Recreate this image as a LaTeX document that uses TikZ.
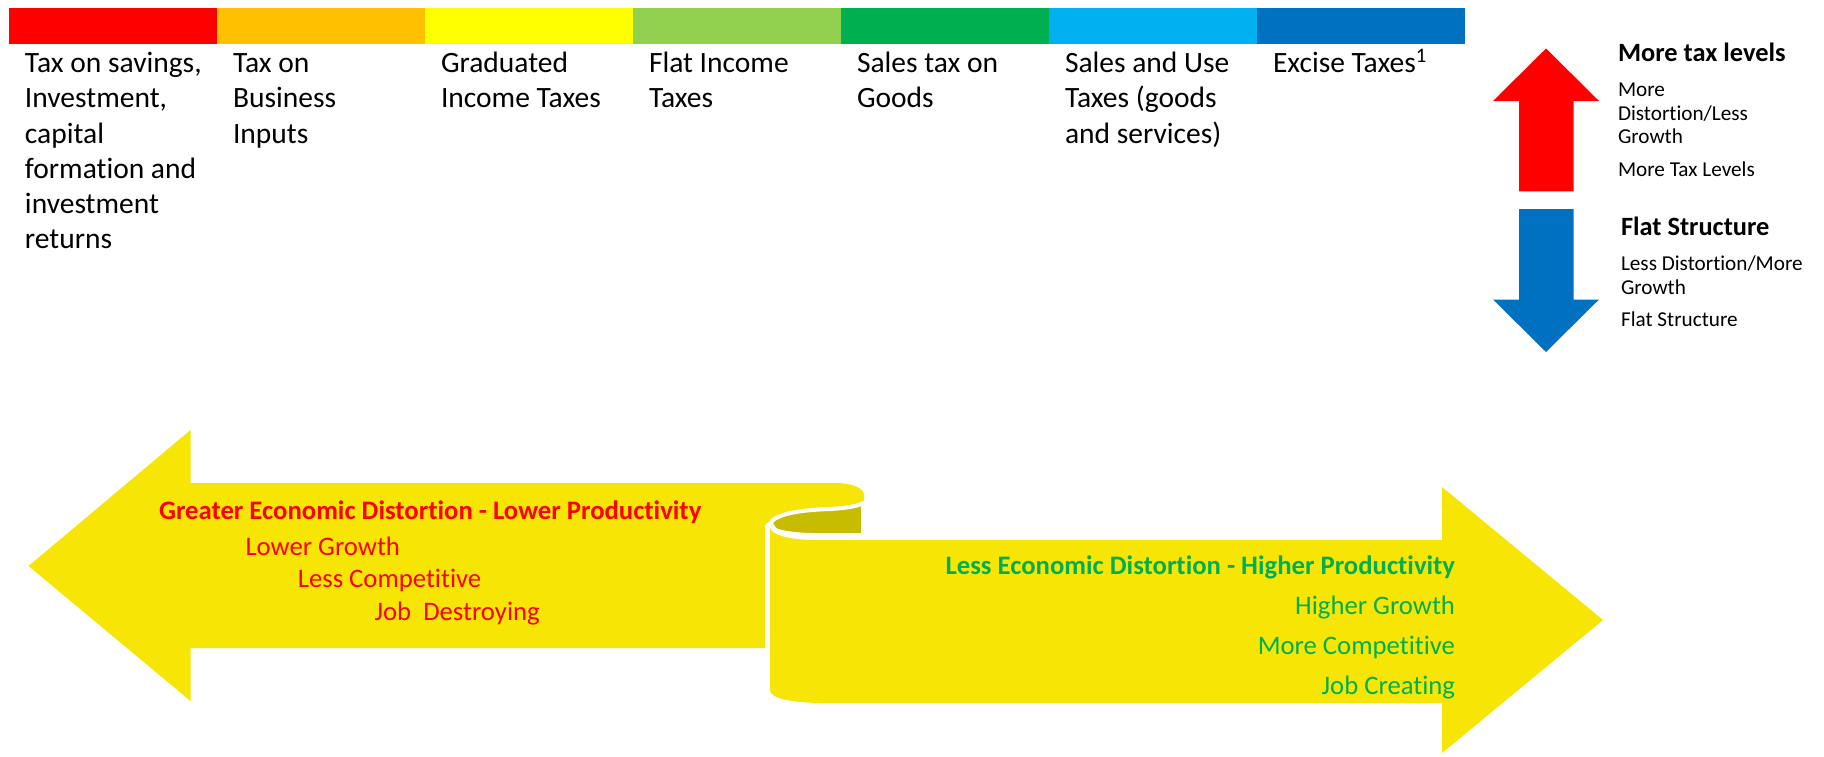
\documentclass[tikz,border=0pt]{standalone}
\usepackage{fontspec}
\setmainfont[Ligatures=NoCommon]{Carlito}

% Office palette
\definecolor{barred}{HTML}{FF0000}
\definecolor{barorange}{HTML}{FFC000}
\definecolor{baryellow}{HTML}{FFFF00}
\definecolor{barlime}{HTML}{92D050}
\definecolor{bargreen}{HTML}{00B050}
\definecolor{barcyan}{HTML}{00B0F0}
\definecolor{barblue}{HTML}{0070C0}
\definecolor{ribbon}{HTML}{F7E605}
\definecolor{ribbonback}{HTML}{C8BC00}
\definecolor{txtred}{HTML}{FF0000}
\definecolor{txtgreen}{HTML}{00B050}

% multi-line text block aligned on its first baseline
\newcommand\stackL[1]{\begin{tabular}[t]{@{}l@{}}#1\end{tabular}}
\newcommand\stackR[1]{\begin{tabular}[t]{@{}r@{}}#1\end{tabular}}

\begin{document}
\begin{tikzpicture}[x=0.5pt,y=-0.5pt,
  txtbase/.style={inner sep=0pt, outer sep=0pt},
  toplabel/.style={txtbase, anchor=base west, font=\fontsize{14.75}{17.6}\selectfont},
  legtitle/.style={txtbase, anchor=base west, font=\fontsize{13.2}{16}\selectfont\bfseries},
  legtext/.style={txtbase, anchor=base west, font=\fontsize{10.6}{11.75}\selectfont},
  redhead/.style={txtbase, anchor=base west, text=txtred, font=\fontsize{13.35}{16}\selectfont\bfseries},
  redline/.style={txtbase, anchor=base west, text=txtred, font=\fontsize{13.35}{16}\selectfont},
  greenblock/.style={txtbase, anchor=base east, text=txtgreen, font=\fontsize{13.35}{20}\selectfont},
  gapedge/.style={draw=white, line join=round, line cap=round}
]
\useasboundingbox (0,0) rectangle (1824,756);

% ---- colour scale bar ----
\fill[barred]    (9,8)    rectangle (217,44);
\fill[barorange] (217,8)  rectangle (425,44);
\fill[baryellow] (425,8)  rectangle (633,44);
\fill[barlime]   (633,8)  rectangle (841,44);
\fill[bargreen]  (841,8)  rectangle (1049,44);
\fill[barcyan]   (1049,8) rectangle (1257,44);
\fill[barblue]   (1257,8) rectangle (1465,44);

% ---- tax categories ----
\node[toplabel] (savings)  at (25,72.7)   {\stackL{Tax on savings,\\Investment,\\capital\\formation and\\investment\\returns}};
\node[toplabel] (business) at (233,72.7)  {\stackL{Tax on\\Business\\Inputs}};
\node[toplabel] (graduated) at (441,72.7) {\stackL{Graduated\\Income Taxes}};
\node[toplabel] (flatinc)  at (649,72.7)  {\stackL{Flat Income\\Taxes}};
\node[toplabel] (salesgoods) at (857,72.7) {\stackL{Sales tax on\\Goods}};
\node[toplabel] (salesuse) at (1065,72.7) {\stackL{Sales and Use\\Taxes (goods\\and services)}};
\node[toplabel] (excise)   at (1273,72.7) {Excise Taxes\textsuperscript{1}};

% ---- vertical legend arrows ----
\fill[barred] (1546,48.5) -- (1599,101) -- (1573.5,101) -- (1573.5,191.3)
  -- (1519,191.3) -- (1519,101) -- (1493,101) -- cycle;
\fill[barblue] (1519,209) -- (1573.5,209) -- (1573.5,299.5) -- (1599,299.5)
  -- (1546,352) -- (1493,299.5) -- (1519,299.5) -- cycle;

\node[legtitle] (moretitle)  at (1618,61.7)  {More tax levels};
\node[legtext]  (moredesc)   at (1618,96.7)  {\stackL{More\\Distortion/Less\\Growth}};
\node[legtext]  (morelevels) at (1618,176.7) {More Tax Levels};
\node[legtitle] (flattitle)  at (1621,235)   {Flat Structure};
\node[legtext]  (flatdesc)   at (1621,270.7) {\stackL{Less Distortion/More\\Growth}};
\node[legtext]  (flatlevels) at (1621,326.7) {Flat Structure};

% ---- folded ribbon: left-pointing band with its curled top ----
\fill[ribbon] (28.5,566) -- (190.5,430) -- (190.5,483) -- (835,483)
  .. controls (852,483) and (864,488) .. (864,495)
  .. controls (864,499) and (864,501) .. (863,503)
  .. controls (858,506) and (848,508) .. (830,509)
  .. controls (800,510) and (772,514) .. (770,525)
  -- (765,525) -- (765,648) -- (190.5,648) -- (190.5,701) -- cycle;

% back side of the ribbon seen inside the fold
\filldraw[fill=ribbonback, gapedge, line width=2pt]
  (770,525) .. controls (772,514) and (800,510) .. (830,509)
  .. controls (848,508) and (858,506) .. (863,503)
  -- (863,535) -- (815,535)
  .. controls (790,535) and (770,531) .. (770,525) -- cycle;

% right-pointing band, separated by a white edge
\fill[ribbon, preaction={gapedge, line width=5pt}]
  (770,527) .. controls (770,535) and (790,540) .. (815,540)
  -- (1442,540) -- (1442,487) -- (1603,620) -- (1442,753) -- (1442,703)
  -- (825,703) .. controls (790,703) and (770,698) .. (770,690) -- cycle;

% ---- band texts ----
\node[redhead] (lowprod)   at (159,519)   {Greater Economic Distortion - Lower Productivity};
\node[redline] (lowgrowth) at (245.5,555) {Lower Growth};
\node[redline] (lesscomp)  at (297.8,587.5) {Less Competitive};
\node[redline] (jobdest)   at (374.6,620) {Job\ \ Destroying};

\node[greenblock] (highprod) at (1455,574)
  {\stackR{\textbf{Less Economic Distortion - Higher Productivity}\\Higher Growth\\More Competitive\\Job Creating}};
\end{tikzpicture}
\end{document}
